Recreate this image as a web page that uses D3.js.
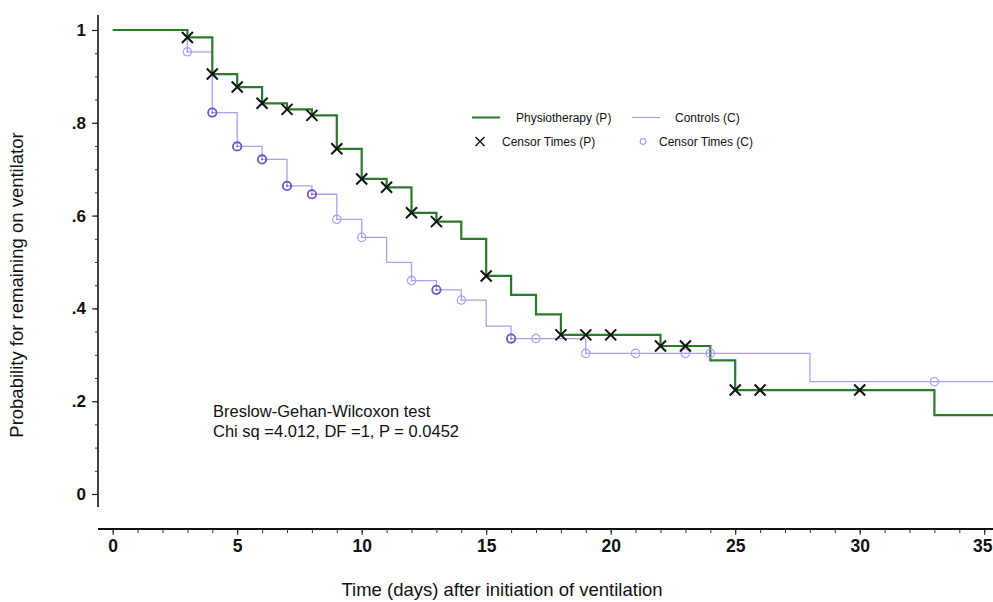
<!DOCTYPE html>
<html>
<head>
<meta charset="utf-8">
<script src="https://cdn.jsdelivr.net/npm/d3@7"></script>
<style>
  body { margin: 0; background: #fff; }
  svg { font-family: "Liberation Sans", Arial, Helvetica, sans-serif; display: block; }
  .tick text { font-weight: bold; fill: #111; }
</style>
</head>
<body>
<svg id="chart" width="993" height="602"></svg>
<script>
// Kaplan-Meier step values (days, probability after the step)
var physioTimes = [0, 3, 4, 5, 6, 7, 8, 9, 10, 11, 12, 13, 14, 15, 16, 17, 18, 22, 24, 25, 33];
var physioSurv  = [1, .984, .905, .877, .842, .829, .816, .744, .679, .661, .606, .587, .550, .470, .429, .387, .343, .319, .288, .224, .170];
var controlTimes = [0, 3, 4, 5, 6, 7, 8, 9, 10, 11, 12, 13, 14, 15, 16, 19, 28];
var controlSurv  = [1, .953, .822, .749, .721, .664, .646, .592, .553, .499, .460, .440, .418, .362, .335, .303, .242];

// censor times (repeated days = several censored patients on the same day)
var physioCensor = [3, 4, 5, 6, 7, 8, 9, 10, 11, 12, 13, 15, 18, 19, 20, 22, 23, 25, 26, 30];
var controlCensor = [3, 4, 4, 5, 5, 6, 6, 7, 7, 8, 8, 9, 10, 12, 13, 13, 14, 16, 16, 17, 19, 21, 23, 24, 33];

var yTickValues = [0, .2, .4, .6, .8, 1];
var yTickLabels = ["0", ".2", ".4", ".6", ".8", "1"];
var xTickValues = [0, 5, 10, 15, 20, 25, 30, 35];

var legendItems = [
  {label: "Physiotherapy (P)", kind: "line", series: "p"},
  {label: "Controls (C)", kind: "line", series: "c"},
  {label: "Censor Times (P)", kind: "x", series: "p"},
  {label: "Censor Times (C)", kind: "o", series: "c"}
];
var testLines = ["Breslow-Gehan-Wilcoxon test", "Chi sq =4.012, DF =1, P = 0.0452"];

(function () {
  "use strict";
  var W = 993, H = 602;
  var green = "#2b7a2b", lilac = "#aaa0ee", lilacDark = "#7350c0";
  var svg = d3.select("#chart");

  var x = d3.scaleLinear().domain([0, 35]).range([112.7, 984.2]);
  var y = d3.scaleLinear().domain([0, 1]).range([494, 30]);

  // survival value at a given day for a step curve
  function survAt(times, surv, t) {
    var i = d3.bisectRight(times, t) - 1;
    return surv[Math.max(0, i)];
  }
  function stepData(times, surv) {
    var pts = times.map(function (t, i) { return [t, surv[i]]; });
    pts.push([x.invert(W), surv[surv.length - 1]]);
    return pts;
  }

  // y axis
  var yAxisX = 98;
  svg.append("line")
      .attr("x1", yAxisX).attr("x2", yAxisX)
      .attr("y1", 15).attr("y2", 507)
      .attr("stroke", "#111").attr("stroke-width", 1.6);
  svg.append("g")
      .attr("transform", "translate(" + yAxisX + ",0)")
      .call(d3.axisLeft(y).tickValues(d3.range(0, 1.0001, 0.05)).tickSize(3).tickFormat(""))
      .call(function (g) { g.select(".domain").remove(); })
      .selectAll("line").attr("stroke", "#333");
  var yAxis = svg.append("g")
      .attr("transform", "translate(" + yAxisX + ",0)")
      .call(d3.axisLeft(y).tickValues(yTickValues).tickSize(6).tickPadding(6)
        .tickFormat(function (d, i) { return yTickLabels[i]; }));
  yAxis.select(".domain").remove();
  yAxis.selectAll("text").attr("font-size", 17);
  yAxis.selectAll("line").attr("stroke", "#222").attr("stroke-width", 1.2);

  // x axis
  var xAxisY = 529;
  svg.append("line")
      .attr("x1", yAxisX).attr("x2", W)
      .attr("y1", xAxisY).attr("y2", xAxisY)
      .attr("stroke", "#111").attr("stroke-width", 2);
  svg.append("g")
      .attr("transform", "translate(0," + xAxisY + ")")
      .call(d3.axisBottom(x).tickValues(d3.range(0, 36, 1)).tickSize(4).tickFormat(""))
      .call(function (g) { g.select(".domain").remove(); })
      .selectAll("line").attr("stroke", "#333");
  var xAxis = svg.append("g")
      .attr("transform", "translate(0," + xAxisY + ")")
      .call(d3.axisBottom(x).tickValues(xTickValues).tickSize(6).tickPadding(5));
  xAxis.select(".domain").remove();
  xAxis.selectAll("text").attr("font-size", 17.5);
  xAxis.selectAll("line").attr("stroke", "#222");
  // the last label sits at the right edge of the picture: keep it inside
  xAxis.selectAll(".tick text")
      .filter(function (d) { return x(d) > W - 15; })
      .attr("text-anchor", "end")
      .attr("dx", W - 1 - x(35));

  // axis titles
  svg.append("text")
      .attr("transform", "translate(23,285) rotate(-90)")
      .attr("text-anchor", "middle")
      .attr("font-size", 18.5)
      .attr("fill", "#111")
      .text("Probability for remaining on ventilator");
  svg.append("text")
      .attr("x", 502).attr("y", 596)
      .attr("text-anchor", "middle")
      .attr("font-size", 18.5)
      .attr("fill", "#111")
      .text("Time (days) after initiation of ventilation");

  // curves
  var line = d3.line()
      .x(function (d) { return x(d[0]); })
      .y(function (d) { return y(d[1]); })
      .curve(d3.curveStepAfter);

  svg.append("path")
      .datum(stepData(controlTimes, controlSurv))
      .attr("d", line)
      .attr("fill", "none")
      .attr("stroke", lilac)
      .attr("stroke-width", 1.3);
  svg.append("path")
      .datum(stepData(physioTimes, physioSurv))
      .attr("d", line)
      .attr("fill", "none")
      .attr("stroke", green)
      .attr("stroke-width", 2.2);

  // control censor circles; repeated days draw on top of each other and look darker
  var counts = d3.rollup(controlCensor, function (v) { return v.length; }, function (d) { return d; });
  var circ = svg.append("g").selectAll("g")
      .data(Array.from(counts))
    .enter().append("g")
      .attr("transform", function (d) {
        return "translate(" + x(d[0]) + "," + y(survAt(controlTimes, controlSurv, d[0])) + ")";
      });
  circ.append("circle")
      .attr("r", 4.2)
      .attr("fill", "none")
      .attr("stroke", function (d) { return d[1] > 1 ? lilacDark : lilac; })
      .attr("stroke-width", function (d) { return d[1] > 1 ? 1.8 : 1.2; });
  circ.append("circle")
      .attr("r", 0.9)
      .attr("fill", function (d) { return d[1] > 1 ? lilacDark : lilac; });

  // physiotherapy censor crosses
  var s = 5.5;
  svg.append("g").selectAll("path")
      .data(physioCensor)
    .enter().append("path")
      .attr("transform", function (d) {
        return "translate(" + x(d) + "," + y(survAt(physioTimes, physioSurv, d)) + ")";
      })
      .attr("d", "M" + (-s) + "," + (-s) + "L" + s + "," + s + "M" + (-s) + "," + s + "L" + s + "," + (-s))
      .attr("stroke", "#111")
      .attr("stroke-width", 2)
      .attr("fill", "none");

  // legend
  var legendPos = [[472, 117.5], [632, 117.5], [472, 141.5], [632, 141.5]];
  var lg = svg.append("g").attr("font-size", 12).attr("fill", "#111");
  legendItems.forEach(function (item, i) {
    var p = legendPos[i];
    var col = item.series === "p" ? green : lilac;
    if (item.kind === "line") {
      lg.append("line").attr("x1", p[0]).attr("x2", p[0] + 28)
          .attr("y1", p[1]).attr("y2", p[1])
          .attr("stroke", col).attr("stroke-width", item.series === "p" ? 2 : 1.2);
      lg.append("text").attr("x", p[0] + (item.series === "p" ? 44 : 43)).attr("y", p[1] + 4).text(item.label);
    } else if (item.kind === "x") {
      var c = 4.5, cx = p[0] + 8;
      lg.append("path")
          .attr("d", "M" + (cx - c) + "," + (p[1] - c) + "L" + (cx + c) + "," + (p[1] + c) +
                     "M" + (cx - c) + "," + (p[1] + c) + "L" + (cx + c) + "," + (p[1] - c))
          .attr("stroke", "#111").attr("stroke-width", 1.4);
      lg.append("text").attr("x", p[0] + 30).attr("y", p[1] + 4).text(item.label);
    } else {
      lg.append("circle").attr("cx", p[0] + 11).attr("cy", p[1]).attr("r", 2.8)
          .attr("fill", "none").attr("stroke", lilac).attr("stroke-width", 1.2);
      lg.append("text").attr("x", p[0] + 27).attr("y", p[1] + 4).text(item.label);
    }
  });

  // test annotation
  svg.append("g").selectAll("text")
      .data(testLines)
    .enter().append("text")
      .attr("x", 213)
      .attr("y", function (d, i) { return 417 + i * 19.5; })
      .attr("font-size", 16.5)
      .attr("fill", "#111")
      .text(function (d) { return d; });
}());
</script>
</body>
</html>
